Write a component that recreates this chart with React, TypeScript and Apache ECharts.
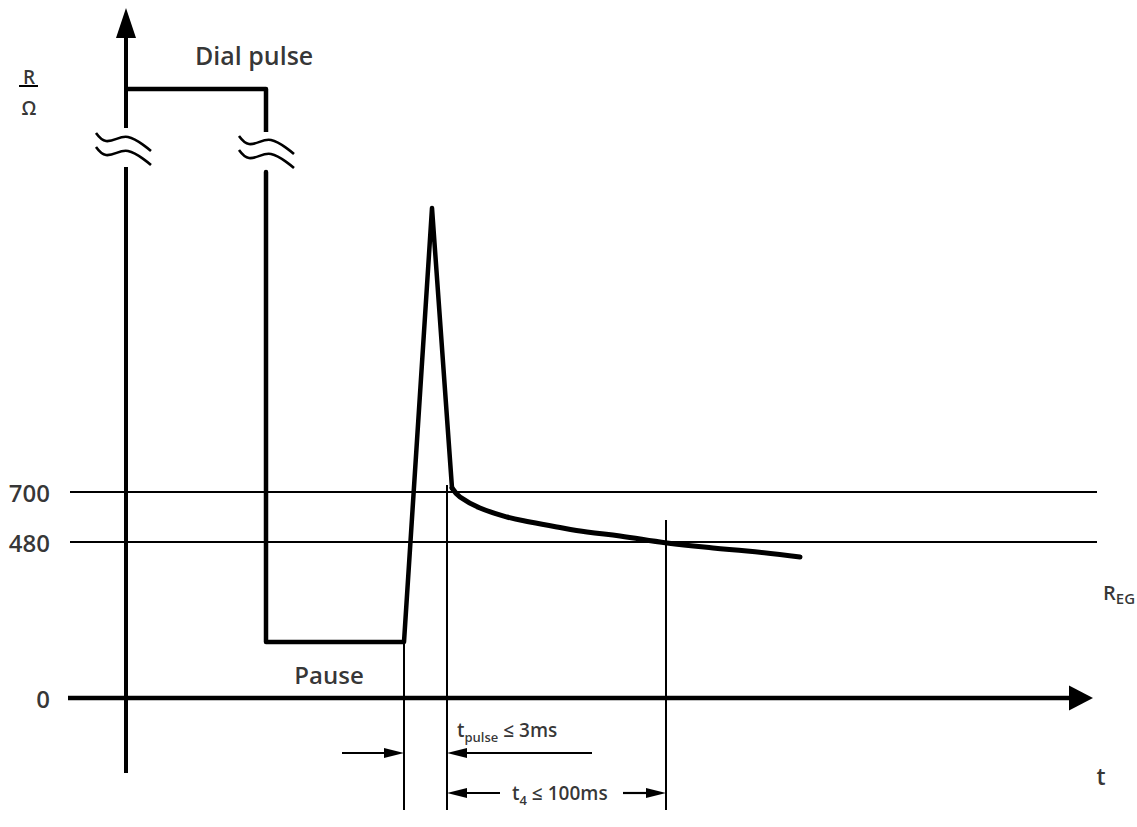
import React, { useEffect, useRef } from "react";
import * as echarts from "echarts";

// Schematic (not to scale) diagram: x = time units from pulse start, y = resistance units (schematic heights)
const levelLabels = ["0", "480", "700"];
const levelValues = [0, 156, 206];

const dialPulseTop = [
  [0, 609],
  [140, 609],
  [140, 566],
];
const pauseAndSpike = [
  [140, 526],
  [140, 56],
  [278, 56],
  [306, 490],
  [326, 210],
];
const decay = [
  [326, 210],
  [334, 201],
  [354, 190],
  [381, 181],
  [404, 176],
  [431, 171],
  [461, 166],
  [494, 162],
  [541, 155],
  [587, 150],
  [621, 147],
  [674, 141],
];

// level lines extent
const levelLineStart = -56;
const levelLineEnd = 971;
// time markers: end of pause, end of pulse, end of t4
const markerTimes = [278, 321, 540];
const markerTops = [56, 213, 178];
const markerBottom = -112;

// axes
const yAxisLower = [[0, -75], [0, 531]];
const yAxisUpper = [[0, 570], [0, 690]];
const xAxisLine = [[-58, 0], [967, 0]];
const breaks = [
  [-3, 549],
  [140, 546],
];

// dimension arrows [x1, y1, x2, y2]
const dimArrows = [
  [216, -55, 278, -55],
  [466, -55, 321, -55],
  [374, -95, 321, -95],
  [497, -95, 540, -95],
];

// unit label R / Ω
const unitLabels = [
  { name: "R", value: [-97, 621] },
  { name: "Ω", value: [-97, 590] },
];
const unitBar = [[-107, 612], [-88, 612]];

const annotations = [
  { name: "Dial pulse", value: [69, 643], align: "left", size: 25 },
  { name: "Pause", value: [203, 24], align: "center", size: 24 },
  { name: "R{subR|EG}", value: [977, 106], align: "left", size: 20 },
  { name: "t", value: [975, -78], align: "center", size: 23 },
  { name: "t{sub|pulse}{n| ≤ 3ms}", value: [331, -32], align: "left", size: 19 },
  { name: "t{sub|4}{n| ≤ 100ms}", value: [386, -95], align: "left", size: 19 },
];

const FONT = "'Open Sans', 'DejaVu Sans', sans-serif";
const WEIGHT = 600;

function makeArrowRenderer(headLen: number, headW: number, lw: number) {
  return (params: any, api: any) => {
    const p1 = api.coord([api.value(0), api.value(1)]);
    const p2 = api.coord([api.value(2), api.value(3)]);
    const dx = p2[0] - p1[0];
    const dy = p2[1] - p1[1];
    const len = Math.hypot(dx, dy) || 1;
    const ux = dx / len;
    const uy = dy / len;
    const nx = -uy;
    const ny = ux;
    const bx = p2[0] - ux * headLen;
    const by = p2[1] - uy * headLen;
    const hw = headW / 2;
    return {
      type: "group",
      children: [
        {
          type: "line",
          shape: { x1: p1[0], y1: p1[1], x2: bx + ux * 2, y2: by + uy * 2 },
          style: { stroke: "#000", lineWidth: lw },
        },
        {
          type: "polygon",
          shape: {
            points: [
              [p2[0], p2[1]],
              [bx + nx * hw, by + ny * hw],
              [bx - nx * hw, by - ny * hw],
            ],
          },
          style: { fill: "#000" },
        },
      ],
    };
  };
}

function segmentRenderer(lw: number) {
  return (params: any, api: any) => {
    const p1 = api.coord([api.value(0), api.value(1)]);
    const p2 = api.coord([api.value(2), api.value(3)]);
    return {
      type: "line",
      shape: { x1: p1[0], y1: p1[1], x2: p2[0], y2: p2[1] },
      style: { stroke: "#000", lineWidth: lw },
    };
  };
}

function breakRenderer(params: any, api: any) {
  const c = api.coord([api.value(0), api.value(1)]);
  const shape = [
    [-27, -9],
    [-17, -1],
    [5, -5],
    [28, 9],
  ];
  const mk = (off: number) => ({
    type: "polyline",
    shape: {
      points: shape.map((p) => [c[0] + p[0], c[1] + p[1] + off]),
      smooth: 0.4,
    },
    style: { stroke: "#000", lineWidth: 2.6, fill: null },
  });
  return { type: "group", children: [mk(-7), mk(7)] };
}

export default function App() {
  const ref = useRef<HTMLDivElement>(null);
  useEffect(() => {
    if (!ref.current) return;
    const chart = echarts.init(ref.current, undefined, { renderer: "svg" });
    const thinSegs: number[][] = [];
    levelValues.slice(1).forEach((v) => thinSegs.push([levelLineStart, v, levelLineEnd, v]));
    markerTimes.forEach((t, i) => thinSegs.push([t, markerTops[i], t, markerBottom]));

    const labelBase = {
      show: true,
      position: "inside",
      verticalAlign: "middle",
      formatter: "{b}",
      color: "#000",
      fontFamily: FONT,
      fontWeight: WEIGHT,
    };

    const option: any = {
      animation: false,
      backgroundColor: "#fff",
      grid: { left: 0, right: 0, top: 0, bottom: 0, containLabel: false },
      xAxis: { type: "value", min: -126, max: 1011, show: false },
      yAxis: { type: "value", min: -129, max: 698, show: false },
      series: [
        // level lines and time markers
        {
          type: "custom",
          renderItem: segmentRenderer(2),
          data: thinSegs,
          encode: { x: [0, 2], y: [1, 3] },
          silent: true,
        },
        // R/Ω bar
        {
          type: "custom",
          renderItem: segmentRenderer(2),
          data: [[unitBar[0][0], unitBar[0][1], unitBar[1][0], unitBar[1][1]]],
          encode: { x: [0, 2], y: [1, 3] },
          silent: true,
        },
        // y axis lower part
        {
          type: "custom",
          renderItem: segmentRenderer(4),
          data: [[yAxisLower[0][0], yAxisLower[0][1], yAxisLower[1][0], yAxisLower[1][1]]],
          encode: { x: [0, 2], y: [1, 3] },
          silent: true,
        },
        // y axis upper with arrow
        {
          type: "custom",
          renderItem: makeArrowRenderer(30, 20, 4),
          data: [[yAxisUpper[0][0], yAxisUpper[0][1], yAxisUpper[1][0], yAxisUpper[1][1]]],
          encode: { x: [0, 2], y: [1, 3] },
          silent: true,
        },
        // x axis with arrow
        {
          type: "custom",
          renderItem: makeArrowRenderer(24, 25, 4.5),
          data: [[xAxisLine[0][0], xAxisLine[0][1], xAxisLine[1][0], xAxisLine[1][1]]],
          encode: { x: [0, 2], y: [1, 3] },
          silent: true,
        },
        // dimension arrows
        {
          type: "custom",
          renderItem: makeArrowRenderer(20, 10, 2.2),
          data: dimArrows,
          encode: { x: [0, 2], y: [1, 3] },
          silent: true,
        },
        // break symbols
        {
          type: "custom",
          renderItem: breakRenderer,
          data: breaks,
          encode: { x: 0, y: 1 },
          silent: true,
        },
        // dial pulse
        {
          type: "line",
          data: dialPulseTop,
          showSymbol: false,
          symbol: "none",
          lineStyle: { color: "#000", width: 4.5, join: "round" },
          silent: true,
        },
        {
          type: "line",
          data: pauseAndSpike,
          showSymbol: false,
          symbol: "none",
          lineStyle: { color: "#000", width: 4.5, join: "round", cap: "round" },
          silent: true,
        },
        {
          type: "line",
          data: decay,
          smooth: 0.4,
          showSymbol: false,
          symbol: "none",
          lineStyle: { color: "#000", width: 5, join: "round", cap: "round" },
          silent: true,
        },
        // tick labels
        {
          type: "scatter",
          symbolSize: 1,
          itemStyle: { color: "rgba(0,0,0,0)" },
          silent: true,
          data: levelValues.map((v, i) => ({ value: [-76, v], name: levelLabels[i] })),
          label: { ...labelBase, align: "right", fontSize: 24 },
        },
        // unit label
        {
          type: "scatter",
          symbolSize: 1,
          itemStyle: { color: "rgba(0,0,0,0)" },
          silent: true,
          data: unitLabels,
          label: { ...labelBase, align: "center", fontSize: 19 },
        },
        // annotations
        {
          type: "scatter",
          symbolSize: 1,
          itemStyle: { color: "rgba(0,0,0,0)" },
          silent: true,
          data: annotations.map((a) => ({
            value: a.value,
            name: a.name,
            label: {
              align: a.align,
              fontSize: a.size,
              lineHeight: 26,
              rich: {
                sub: {
                  fontFamily: FONT,
                  fontWeight: WEIGHT,
                  fontSize: 13,
                  color: "#000",
                  lineHeight: 26,
                  verticalAlign: "bottom",
                  padding: [7, 0, 0, 0],
                },
                subR: {
                  fontFamily: FONT,
                  fontWeight: WEIGHT,
                  fontSize: 15,
                  color: "#000",
                  lineHeight: 26,
                  verticalAlign: "bottom",
                  padding: [8, 0, 0, 0],
                },
                n: { fontFamily: FONT, fontWeight: WEIGHT, fontSize: a.size, color: "#000", lineHeight: 26 },
              },
            },
          })),
          label: { ...labelBase, fontSize: 24 },
        },
      ],
    };
    chart.setOption(option);
    return () => chart.dispose();
  }, []);
  return (
    <div
      ref={ref}
      style={{ position: "fixed", left: 0, top: 0, width: 1137, height: 827, background: "#fff" }}
    />
  );
}
